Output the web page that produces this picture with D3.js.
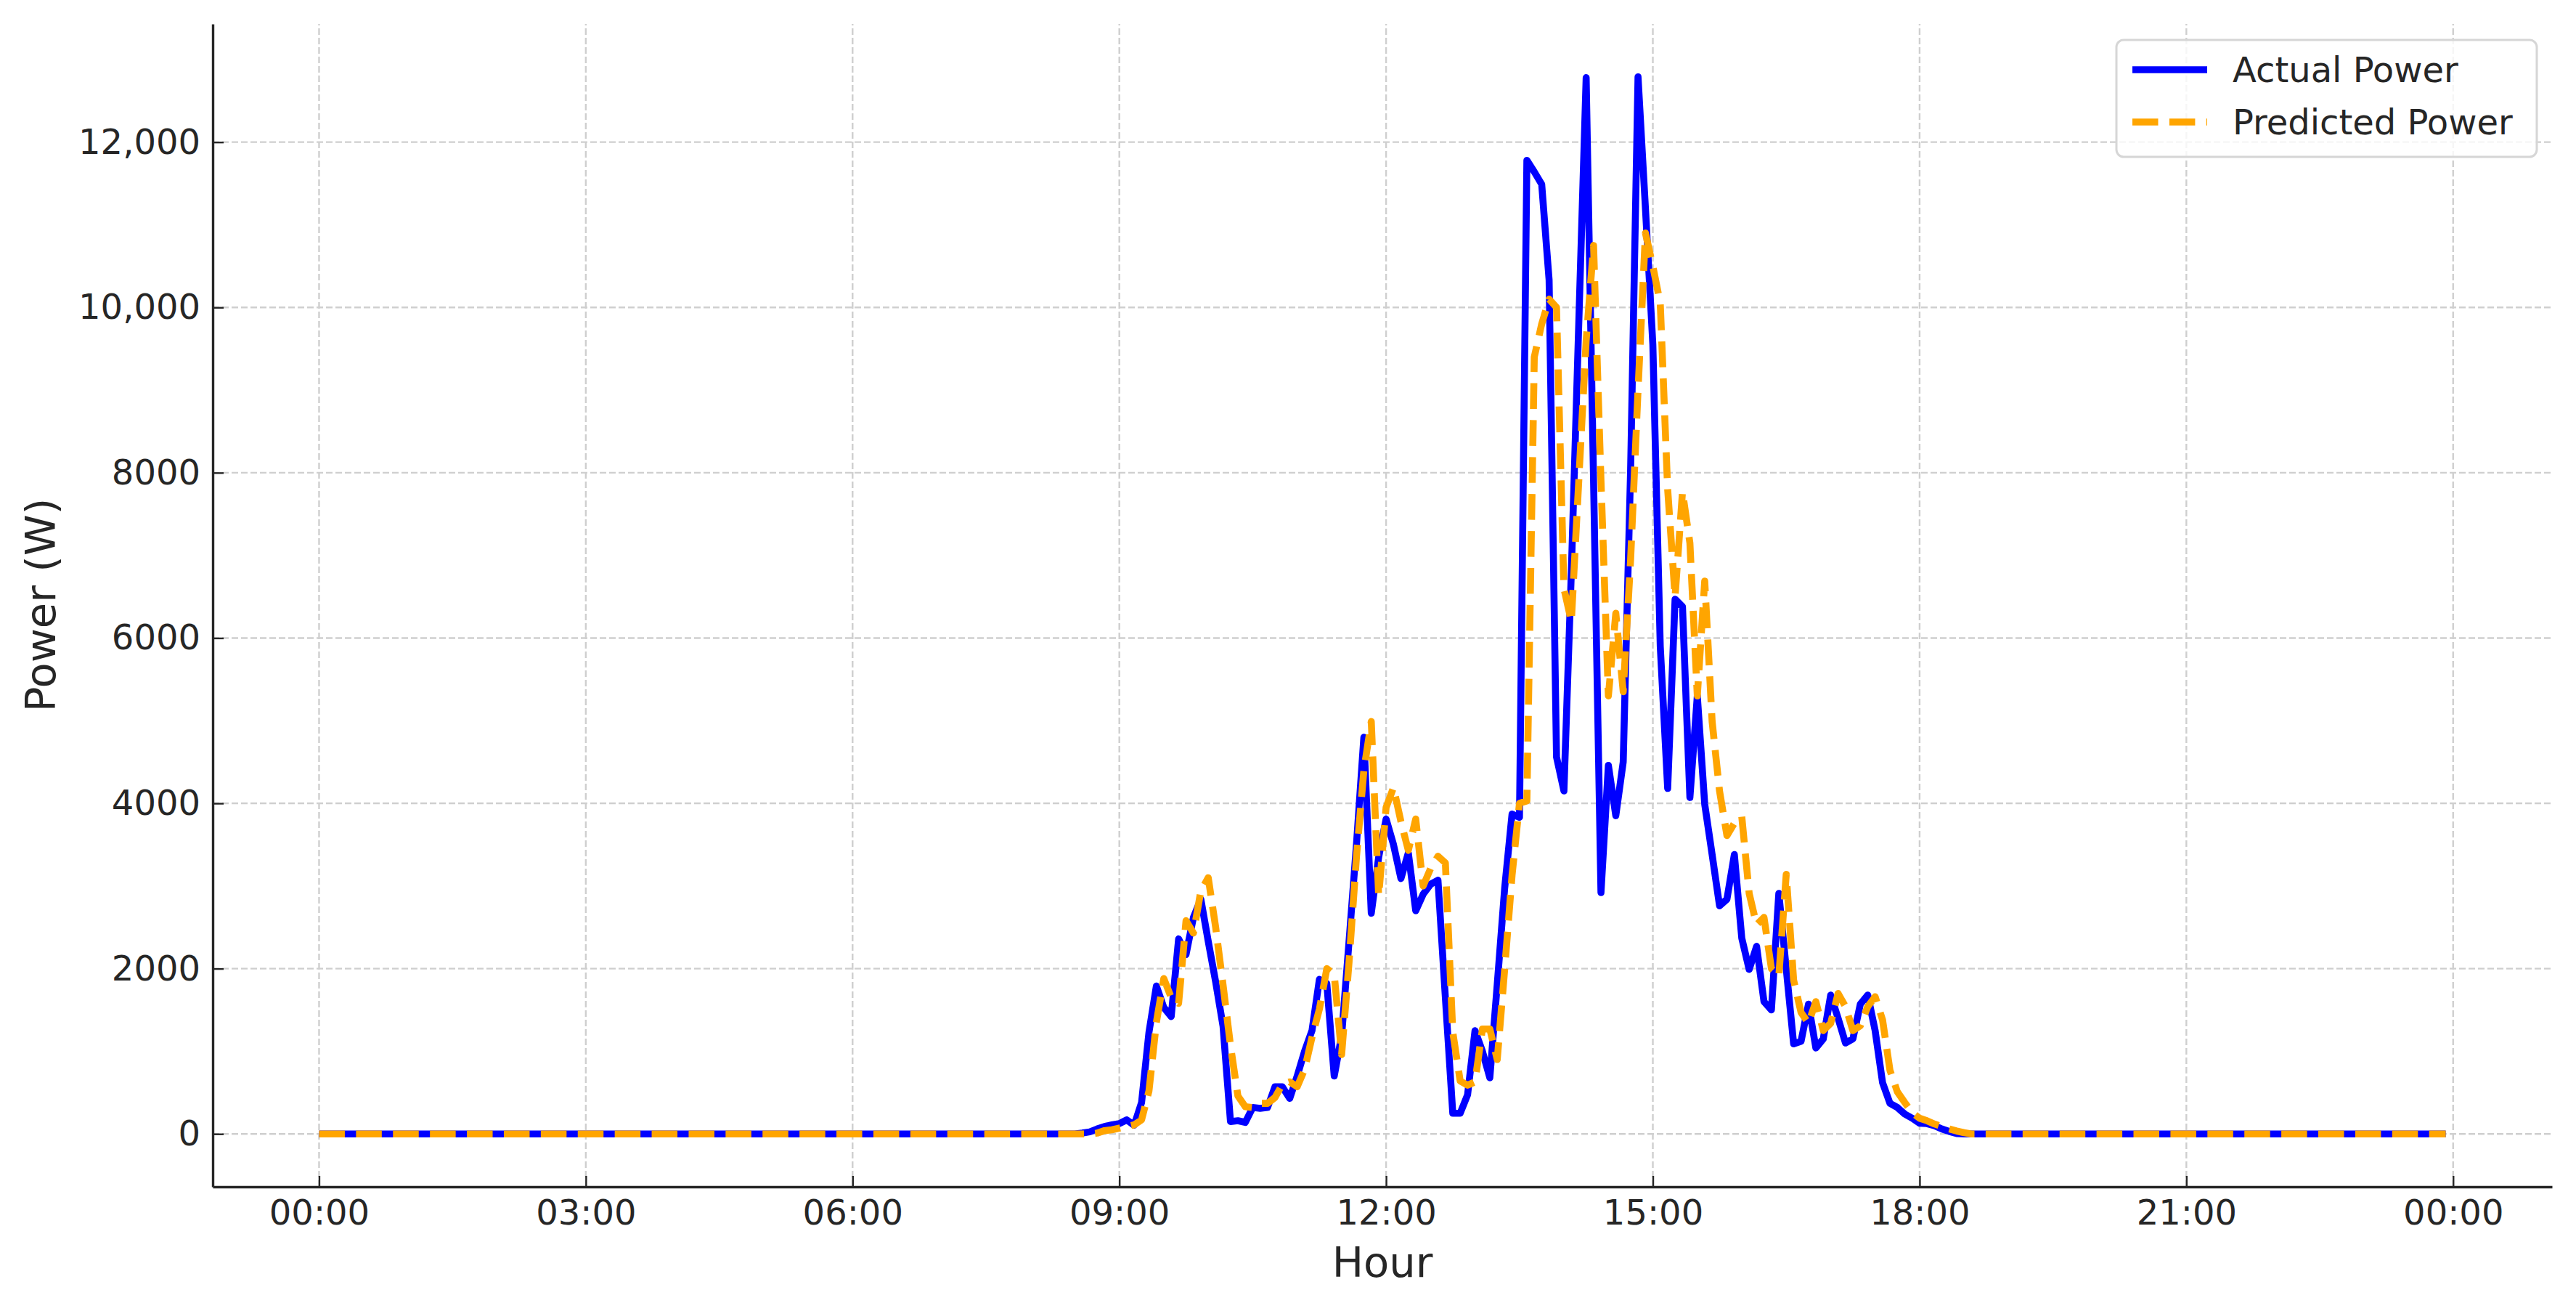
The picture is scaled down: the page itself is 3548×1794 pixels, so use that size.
<!DOCTYPE html>
<html>
<head>
<meta charset="utf-8">
<script src="https://cdn.jsdelivr.net/npm/d3@7"></script>
<style>
  body { margin: 0; background: #fff; }
  svg { display: block; font-family: "DejaVu Sans", sans-serif; }
</style>
</head>
<body>
<svg id="chart" width="3548" height="1794"></svg>
<script>
// readings every 5 minutes; the arrays start at 08:30, everything outside them reads 0 W
var dayStart = "08:30";
var step = 5; // minutes

var actual = [
  0, 10, 25, 60, 90, 110,
  125, 170, 105, 380, 1230, 1790, 1530, 1420, 2360, 2170, 2620, 2840,
  2330, 1840, 1300, 150, 160, 140, 320, 310, 320, 570, 570, 430,
  700, 1000, 1250, 1870, 1820, 700, 1190, 2330, 3500, 4800, 2670, 3350,
  3810, 3500, 3090, 3400, 2700, 2900, 3020, 3070, 1650, 250, 250, 475,
  1250, 1000, 680, 1810, 2970, 3870, 3830, 11780, 11640, 11490, 10330, 4560,
  4150, 6800, 9800, 12780, 7900, 2920, 4460, 3850, 4500, 8040, 12790, 11200,
  9550, 5900, 4180, 6470, 6380, 4070, 5300, 3990, 3380, 2760, 2840, 3380,
  2370, 1990, 2270, 1600, 1500, 2910, 2000, 1090, 1120, 1570, 1040, 1150,
  1680, 1400, 1100, 1150, 1570, 1680, 1250, 620, 370, 320, 240, 190,
  130, 125, 100, 60, 30, 5, 0
];

var predicted = [
  0, 0, 0, 10, 40, 50,
  70, 90, 110, 170, 520, 1350, 1880, 1650, 1580, 2580, 2430, 2940,
  3100, 2500, 1800, 1070, 460, 330, 320, 370, 370, 440, 600, 630,
  570, 780, 1170, 1510, 2000, 1930, 960, 2080, 3350, 4400, 4990, 2880,
  3950, 4190, 3780, 3430, 3810, 3000, 3210, 3360, 3280, 1230, 640, 590,
  630, 1270, 1270, 900, 1990, 3130, 4000, 4030, 9400, 9800, 10100, 10000,
  6600, 6200, 7900, 9600, 10750, 7900, 5300, 6300, 5350, 6950, 9000, 10900,
  10500, 10050, 7800, 6500, 7770, 7150, 5300, 6690, 4990, 4150, 3610, 3760,
  3840, 2910, 2530, 2620, 2000, 1910, 3140, 1860, 1470, 1340, 1600, 1250,
  1340, 1700, 1540, 1250, 1310, 1540, 1660, 1380, 770, 510, 380, 256,
  190, 160, 120, 90, 60, 35, 15
];

var xTickHours = [0, 3, 6, 9, 12, 15, 18, 21, 24];
var yTicks = [0, 2000, 4000, 6000, 8000, 10000, 12000];
var seriesNames = ["Actual Power", "Predicted Power"];
var seriesColors = ["#0000ff", "#ffa500"];

var svg = d3.select("#chart");

var day0 = Date.UTC(2024, 0, 1);
var startIdx = (+dayStart.slice(0, 2) * 60 + +dayStart.slice(3)) / step;
var nPoints = 24 * 60 / step;

function fullDay(vals) {
  return d3.range(nPoints).map(function(i) {
    var j = i - startIdx;
    return {
      t: new Date(day0 + i * step * 60000),
      v: (j >= 0 && j < vals.length) ? vals[j] : 0
    };
  });
}

var series = [fullDay(actual), fullDay(predicted)];

// 5% padding either side like the original
var tFirst = series[0][0].t, tLast = series[0][nPoints - 1].t;
var span = tLast - tFirst;
var x = d3.scaleUtc()
    .domain([new Date(+tFirst - 0.05 * span), new Date(+tLast + 0.05 * span)])
    .range([293, 3515]);

var vMax = d3.max(actual.concat(predicted));
var y = d3.scaleLinear()
    .domain([-0.05 * vMax, vMax * 1.05])
    .range([1634, 33]);

// grid
var grid = svg.append("g").attr("class", "grid");
grid.selectAll(".gy")
  .data(yTicks)
  .enter().append("line")
    .attr("x1", x.range()[0]).attr("x2", x.range()[1])
    .attr("y1", function(d) { return y(d); })
    .attr("y2", function(d) { return y(d); });
grid.selectAll(".gx")
  .data(xTickHours)
  .enter().append("line")
    .attr("x1", function(d) { return x(new Date(day0 + d * 3600000)); })
    .attr("x2", function(d) { return x(new Date(day0 + d * 3600000)); })
    .attr("y1", y.range()[0]).attr("y2", y.range()[1]);
grid.selectAll("line")
    .attr("stroke", "#cfcfcf")
    .attr("stroke-width", 2.4)
    .attr("stroke-dasharray", "9,4");

// lines
var line = d3.line()
    .x(function(d) { return x(d.t); })
    .y(function(d) { return y(d.v); });

svg.append("path")
    .datum(series[0])
    .attr("fill", "none")
    .attr("stroke", seriesColors[0])
    .attr("stroke-width", 9.6)
    .attr("stroke-linejoin", "round")
    .attr("d", line);

svg.append("path")
    .datum(series[1])
    .attr("fill", "none")
    .attr("stroke", seriesColors[1])
    .attr("stroke-width", 9.6)
    .attr("stroke-linejoin", "round")
    .attr("stroke-dasharray", "35.5,15.4")
    .attr("d", line);

// axes
var fmtY = function(v) { return v >= 10000 ? d3.format(",")(v) : String(v); };

var yAxis = svg.append("g")
    .attr("transform", "translate(293,0)")
    .call(d3.axisLeft(y)
      .tickValues(yTicks)
      .tickFormat(fmtY)
      .tickSizeInner(-15)
      .tickSizeOuter(0)
      .tickPadding(17));

var xAxis = svg.append("g")
    .attr("transform", "translate(0,1634)")
    .call(d3.axisBottom(x)
      .tickValues(xTickHours.map(function(h) { return new Date(day0 + h * 3600000); }))
      .tickFormat(d3.utcFormat("%H:%M"))
      .tickSizeInner(-15)
      .tickSizeOuter(0)
      .tickPadding(18));

[yAxis, xAxis].forEach(function(a) {
  a.select(".domain").attr("stroke", "#262626").attr("stroke-width", 3.4);
  a.selectAll(".tick line").attr("stroke", "#262626").attr("stroke-width", 2.4);
  a.selectAll(".tick text")
    .attr("fill", "#262626")
    .style("font-size", "48px")
    .style("font-family", "DejaVu Sans");
});

// axis titles
svg.append("text")
    .attr("x", 1904)
    .attr("y", 1758)
    .attr("text-anchor", "middle")
    .attr("fill", "#262626")
    .style("font-size", "57.6px")
    .text("Hour");

svg.append("text")
    .attr("transform", "translate(76,833) rotate(-90)")
    .attr("text-anchor", "middle")
    .attr("fill", "#262626")
    .style("font-size", "57.6px")
    .text("Power (W)");

// legend
var legend = svg.append("g").attr("class", "legend");
legend.append("rect")
    .attr("x", 2915).attr("y", 55)
    .attr("width", 579).attr("height", 161)
    .attr("rx", 10)
    .attr("fill", "#fff")
    .attr("fill-opacity", 0.8)
    .attr("stroke", "#d6d6d6")
    .attr("stroke-width", 3);

var items = legend.selectAll(".item")
  .data(seriesNames)
  .enter().append("g")
    .attr("transform", function(d, i) { return "translate(0," + (96 + i * 72) + ")"; });

items.append("line")
    .attr("x1", 2937).attr("x2", 3040)
    .attr("stroke", function(d, i) { return seriesColors[i]; })
    .attr("stroke-width", 9.6)
    .attr("stroke-dasharray", function(d, i) { return i ? "35.5,15.4" : null; });

items.append("text")
    .attr("x", 3075)
    .attr("y", 17)
    .attr("fill", "#262626")
    .style("font-size", "48px")
    .text(function(d) { return d; });
</script>
</body>
</html>
